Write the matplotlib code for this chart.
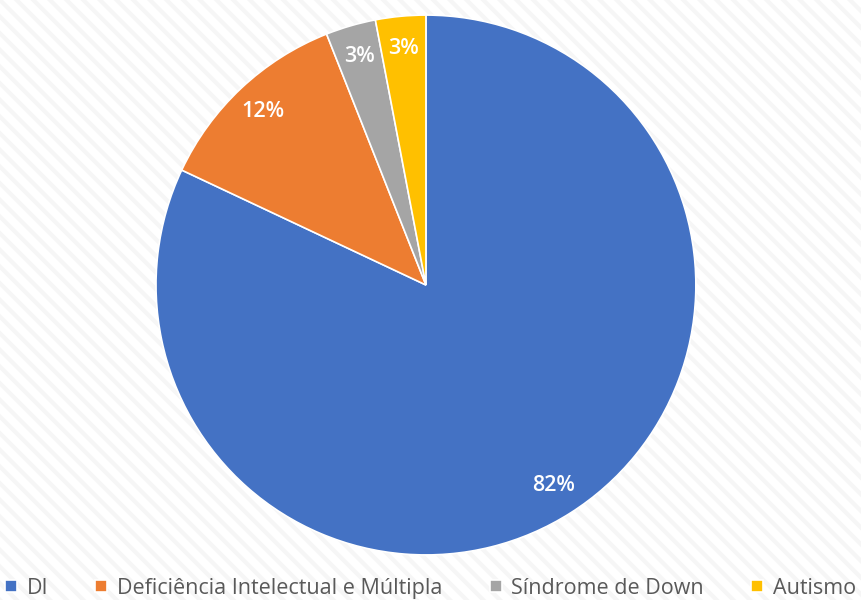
import matplotlib
matplotlib.use("Agg")
import matplotlib.pyplot as plt
from matplotlib.patches import Rectangle

categories = ["DI", "Deficiência Intelectual e Múltipla", "Síndrome de Down", "Autismo"]
values = [82, 12, 3, 3]
colors = ["#4472c4", "#ed7d31", "#a5a5a5", "#ffc000"]

plt.rcParams['font.family'] = ['Open Sans', 'DejaVu Sans']
plt.rcParams['hatch.linewidth'] = 3
plt.rcParams['hatch.color'] = '#f6f6f6'

fig = plt.figure(figsize=(8.61, 6), dpi=100)
fig.patch.set_facecolor("white")
bg = Rectangle((0, 0), 1, 1, transform=fig.transFigure, facecolor="white",
               edgecolor="#f6f6f6", hatch="\\\\", linewidth=0, zorder=-10)
fig.patches.append(bg)

ax = fig.add_axes([0.1812, 0.07, 0.627, 0.91])
wedges, texts, autotexts = ax.pie(values, colors=colors, startangle=90, counterclock=False,
                                  autopct=lambda p: f"{p:.0f}%", pctdistance=0.88,
                                  wedgeprops=dict(edgecolor="white", linewidth=1.2),
                                  textprops=dict(color="white", fontsize=15.5, fontweight="semibold"))
ax.set_xlim(-1, 1)
ax.set_ylim(-1, 1)
ax.set_aspect("equal")

fig.legend(wedges, categories, loc="lower center", ncol=4, frameon=False,
           bbox_to_anchor=(0.5, -0.03), fontsize=15.5, handlelength=0.55, handleheight=0.55,
           columnspacing=2.2, handletextpad=0.45, labelcolor="#595959")

fig.savefig("out.png", dpi=100)
